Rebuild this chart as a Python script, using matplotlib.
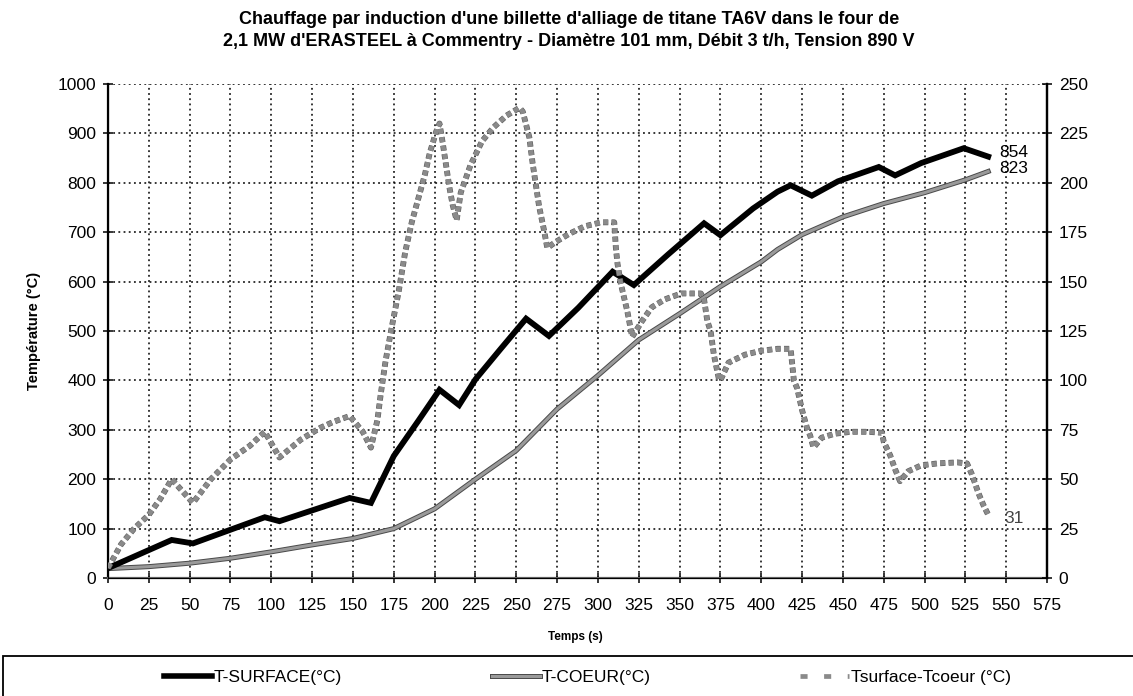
import numpy as np
import matplotlib
matplotlib.use("Agg")
import matplotlib.pyplot as plt
from matplotlib.lines import Line2D
from matplotlib.patches import Rectangle
import matplotlib.patheffects as pe

plt.rcParams['font.family'] = ['Liberation Sans', 'DejaVu Sans']

# values
t_surf = [0, 39, 52, 96, 105, 148, 161, 175, 190, 203, 215, 225, 240, 256, 270, 288, 309, 322,
          343, 365, 375, 395, 410, 418, 431, 447, 472, 482, 498, 524, 539]
T_surf = [20, 77, 70, 123, 115, 162, 152, 247, 318, 381, 350, 402, 462, 525, 490, 547, 620, 593,
          655, 718, 694, 748, 782, 795, 774, 803, 832, 815, 840, 870, 853]

t_coeur = [0, 25, 50, 75, 100, 125, 150, 175, 200, 225, 250, 275, 300, 325, 350, 375, 400, 410,
           425, 450, 475, 500, 525, 539]
T_coeur = [19, 23, 30, 40, 53, 67, 80, 100, 140, 200, 258, 342, 410, 482, 535, 590, 640, 665,
           695, 731, 758, 780, 806, 823]

t_diff = [0, 8, 16, 25, 32, 39, 52, 63, 75, 87, 96, 105, 118, 130, 138, 148, 156, 161,
          165, 167, 170, 174, 178, 182, 186, 190, 194, 197, 201, 203, 205, 207, 209, 211, 213.5,
          216, 222, 229, 236, 244, 252, 254, 258, 260, 262, 264, 267, 269,
          274, 282, 292, 302, 310, 311, 312, 314, 318, 321,
          327, 333, 341, 351, 363, 365, 367, 369, 371, 374, 375,
          380, 390, 400, 410, 418, 420, 422, 425, 428, 430, 432,
          437, 445, 455, 465, 474, 475, 479, 482, 485,
          490, 498, 508, 520, 526, 529, 533, 536, 539]
d_diff = [5, 17, 25, 32, 40, 50, 38, 50, 60, 67, 74, 61, 70, 76, 79, 82, 74, 66,
          80, 93, 110, 128, 145, 165, 180, 192, 204, 215, 226, 230, 220, 209, 198, 189, 181,
          195, 209, 221, 228, 234, 238, 236, 223, 210, 199, 188, 176, 167,
          170, 174, 178, 180, 180, 167, 159, 149, 135, 122,
          130, 137, 141, 144, 144, 141, 130, 125, 113, 101, 100,
          109, 113, 115, 116, 116, 100, 96, 85, 76, 72, 66,
          71, 73, 74, 74, 73.5, 69, 62, 55, 49,
          54, 57, 58, 58.5, 58, 52.5, 43, 37, 32]

x_ticks = np.arange(0, 576, 25)
y_ticks = np.arange(0, 1001, 100)
y2_ticks = np.arange(0, 251, 25)

fig = plt.figure(figsize=(11.33, 6.96), dpi=100)
ax = fig.add_axes([108/1133, 1-578/696, (1047-108)/1133, (578-84)/696])

ax.plot(t_surf, T_surf, color='black', lw=4.2, solid_joinstyle='miter', zorder=4)
ax.plot(t_coeur, T_coeur, color='#9a9a9a', lw=2.2, zorder=3,
        path_effects=[pe.Stroke(linewidth=3.6, foreground='#4a4a4a'), pe.Normal()])

ax.set_xlim(0, 575)
ax.set_ylim(0, 1000)
ax.set_xticks(x_ticks)
ax.set_yticks(y_ticks)
ax.grid(True, color='black', linestyle=(0, (1.2, 2.2)), lw=1.1)
ax.tick_params(direction='inout', length=7, width=1.1, labelsize=12.5)
ax.tick_params(axis='x', pad=11)
ax.tick_params(axis='y', pad=5)
ax.spines['top'].set_visible(False)
ax.spines['left'].set_linewidth(1.6)
ax.spines['bottom'].set_linewidth(1.6)
ax.spines['bottom'].set_color('#666666')
ax.spines['right'].set_linewidth(1.6)

ax2 = ax.twinx()
ax2.plot(t_diff, d_diff, color='#8a8a8a', lw=3.4, linestyle=(0, (1.1, 0.7)), zorder=5,
         path_effects=[pe.Stroke(linewidth=4.2, foreground='#5a5a5a'), pe.Normal()])
ax2.set_ylim(0, 250)
ax2.set_yticks(y2_ticks)
ax2.tick_params(direction='inout', length=7, width=1.1, labelsize=12.5, pad=5)
ax2.spines['top'].set_visible(False)
ax2.spines['right'].set_linewidth(1.6)

ax.text(546, 862, '854', fontsize=12.5, va='center', ha='left')
ax.text(546, 829, '823', fontsize=12.5, va='center', ha='left')
ax2.text(549, 30, '31', fontsize=12.5, va='center', ha='left', color='#444444')

ax.set_ylabel('Température (°C)', fontsize=10.5, fontweight='bold', labelpad=12)
fig.text(0.508, 1-637/696, 'Temps (s)', fontsize=8.5, fontweight='bold', ha='center', va='center')

fig.text(0.502, 1-19/696, "Chauffage par induction d'une billette d'alliage de titane TA6V dans le four de",
         fontsize=13, fontweight='bold', ha='center', va='center')
fig.text(0.502, 1-42/696, "2,1 MW d'ERASTEEL à Commentry - Diamètre 101 mm, Débit 3 t/h, Tension 890 V",
         fontsize=13, fontweight='bold', ha='center', va='center')

# legend box at the bottom
fig.patches.append(Rectangle((3/1133, -0.1), 1.2, 0.1 + (696-656)/696, transform=fig.transFigure,
                             fill=False, edgecolor='black', lw=1.3))
h1 = Line2D([], [], color='black', lw=4)
h2 = Line2D([], [], color='#9a9a9a', lw=2.2,
            path_effects=[pe.Stroke(linewidth=3.6, foreground='#4a4a4a'), pe.Normal()])
h3 = Line2D([], [], color='#8a8a8a', lw=3.4, linestyle=(0, (1.5, 3.5)))
fig.legend([h1, h2, h3], ['T-SURFACE(°C)', 'T-COEUR(°C)', 'Tsurface-Tcoeur (°C)'],
           ncol=3, loc='center left', bbox_to_anchor=(148/1133, 1-677/696), frameon=False,
           fontsize=12.5, handlelength=2.8, handletextpad=0.1, columnspacing=8.6)

fig.savefig('out.png', dpi=100)
